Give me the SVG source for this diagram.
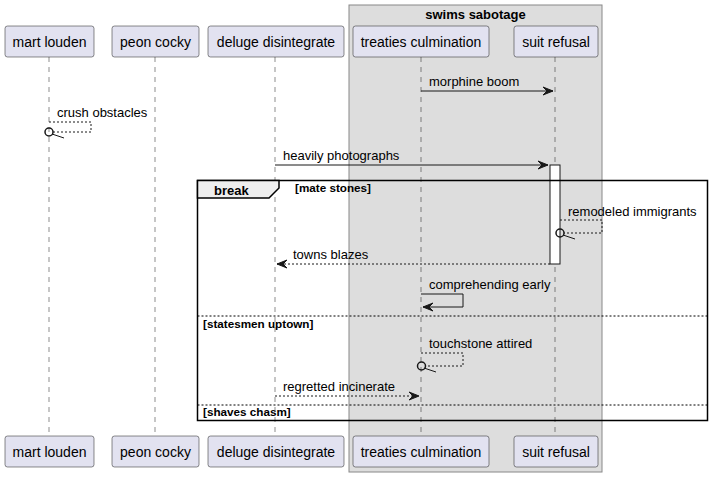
<svg xmlns="http://www.w3.org/2000/svg" width="713" height="478" viewBox="0 0 713 478">
<style>
.p rect{fill:#E2E2F0;stroke:#181818;stroke-width:0.5}
.p text{font-family:"Liberation Sans",Arial,sans-serif;font-size:14px;fill:#000;text-anchor:middle}
.life{stroke:#181818;stroke-width:0.5;stroke-dasharray:5,5}
.m{stroke:#181818;stroke-width:1;fill:none}
.d{stroke:#181818;stroke-width:1;fill:none;stroke-dasharray:2,2}
.ah{fill:#181818;stroke:#181818;stroke-width:1}
.lbl{font-family:"Liberation Sans",Arial,sans-serif;font-size:13px;fill:#000}
.g{font-family:"Liberation Sans",Arial,sans-serif;font-size:11.7px;font-weight:bold;fill:#000}
.circ{fill:none;stroke:#181818;stroke-width:1.5}
</style>
<g id="box-swims-sabotage">
<rect x="349" y="5" width="253" height="467" fill="#DDDDDD" stroke="#888888" stroke-width="1"/>
<text x="475.5" y="19" font-family="Liberation Sans,Arial,sans-serif" font-size="13" font-weight="bold" text-anchor="middle">swims sabotage</text>
</g>
<g id="lifelines">
<line class="life" x1="49" y1="57" x2="49" y2="436"/>
<line class="life" x1="155" y1="57" x2="155" y2="436"/>
<line class="life" x1="275" y1="57" x2="275" y2="436"/>
<line class="life" x1="421" y1="57" x2="421" y2="436"/>
<line class="life" x1="555" y1="57" x2="555" y2="436"/>
</g>
<g id="activation">
<rect x="550" y="165" width="10" height="99" fill="#FFFFFF" stroke="#181818" stroke-width="1"/>
</g>
<g id="frame-break">
<rect x="197.5" y="180.5" width="510" height="240" fill="none" stroke="#000" stroke-width="1.5"/>
<path d="M197.5,180.5 L279,180.5 L279,188 L269,198 L197.5,198 Z" fill="#EEEEEE" stroke="#000" stroke-width="1.5"/>
<text x="214" y="194.5" font-family="Liberation Sans,Arial,sans-serif" font-size="13" font-weight="bold">break</text>
<text class="g" x="295" y="192">[mate stones]</text>
<line x1="197.5" y1="316" x2="707.5" y2="316" stroke="#000" stroke-width="1" stroke-dasharray="2,2"/>
<text class="g" x="203" y="328">[statesmen uptown]</text>
<line x1="197.5" y1="405" x2="707.5" y2="405" stroke="#000" stroke-width="1" stroke-dasharray="2,2"/>
<text class="g" x="203" y="416">[shaves chasm]</text>
</g>
<g id="connectors">
<g id="msg-morphine-boom">
<line class="m" x1="421" y1="91" x2="553" y2="91"/>
<polygon class="ah" points="543,87 553,91 543,95 547,91"/>
<text class="lbl" x="429" y="86">morphine boom</text>
</g>
<g id="msg-crush-obstacles">
<polyline class="d" points="49,122 91,122 91,132 53,132"/>
<circle class="circ" cx="49" cy="132" r="4"/>
<line x1="52" y1="134" x2="64" y2="138" stroke="#181818" stroke-width="1"/>
<text class="lbl" x="57" y="117">crush obstacles</text>
</g>
<g id="msg-heavily-photographs">
<line class="m" x1="275" y1="165" x2="548" y2="165"/>
<polygon class="ah" points="538,161 548,165 538,169 542,165"/>
<text class="lbl" x="283" y="160">heavily photographs</text>
</g>
<g id="msg-remodeled-immigrants">
<polyline class="d" points="560,220 602,220 602,233 564,233"/>
<circle class="circ" cx="560" cy="233" r="4"/>
<line x1="563" y1="235" x2="575" y2="239" stroke="#181818" stroke-width="1"/>
<text class="lbl" x="568" y="216">remodeled immigrants</text>
</g>
<g id="msg-towns-blazes">
<line class="d" x1="550" y1="264" x2="277" y2="264"/>
<polygon class="ah" points="287,260 277,264 287,268 283,264"/>
<text class="lbl" x="293" y="259">towns blazes</text>
</g>
<g id="msg-comprehending-early">
<polyline class="m" points="421,294 463,294 463,307 423,307"/>
<polygon class="ah" points="433,303 423,307 433,311 429,307"/>
<text class="lbl" x="429" y="289">comprehending early</text>
</g>
<g id="msg-touchstone-attired">
<polyline class="d" points="421,353 463,353 463,366 425,366"/>
<circle class="circ" cx="421.5" cy="366" r="4"/>
<line x1="424" y1="368" x2="436" y2="372" stroke="#181818" stroke-width="1"/>
<text class="lbl" x="429" y="348">touchstone attired</text>
</g>
<g id="msg-regretted-incinerate">
<line class="d" x1="275" y1="396" x2="419" y2="396"/>
<polygon class="ah" points="409,392 419,396 409,400 413,396"/>
<text class="lbl" x="283" y="391">regretted incinerate</text>
</g>
</g>
<g id="p-mart-louden" class="p">
<rect x="5" y="26" width="89" height="31" rx="2.5"/><text x="49.5" y="46.5">mart louden</text>
<rect x="5" y="436" width="89" height="31" rx="2.5"/><text x="49.5" y="456.5">mart louden</text>
</g>
<g id="p-peon-cocky" class="p">
<rect x="112" y="26" width="87" height="31" rx="2.5"/><text x="155.5" y="46.5">peon cocky</text>
<rect x="112" y="436" width="87" height="31" rx="2.5"/><text x="155.5" y="456.5">peon cocky</text>
</g>
<g id="p-deluge-disintegrate" class="p">
<rect x="208" y="26" width="136" height="31" rx="2.5"/><text x="276" y="46.5">deluge disintegrate</text>
<rect x="208" y="436" width="136" height="31" rx="2.5"/><text x="276" y="456.5">deluge disintegrate</text>
</g>
<g id="p-treaties-culmination" class="p">
<rect x="353" y="26" width="136" height="31" rx="2.5"/><text x="421" y="46.5">treaties culmination</text>
<rect x="353" y="436" width="136" height="31" rx="2.5"/><text x="421" y="456.5">treaties culmination</text>
</g>
<g id="p-suit-refusal" class="p">
<rect x="514" y="26" width="84" height="31" rx="2.5"/><text x="556" y="46.5">suit refusal</text>
<rect x="514" y="436" width="84" height="31" rx="2.5"/><text x="556" y="456.5">suit refusal</text>
</g>
</svg>
